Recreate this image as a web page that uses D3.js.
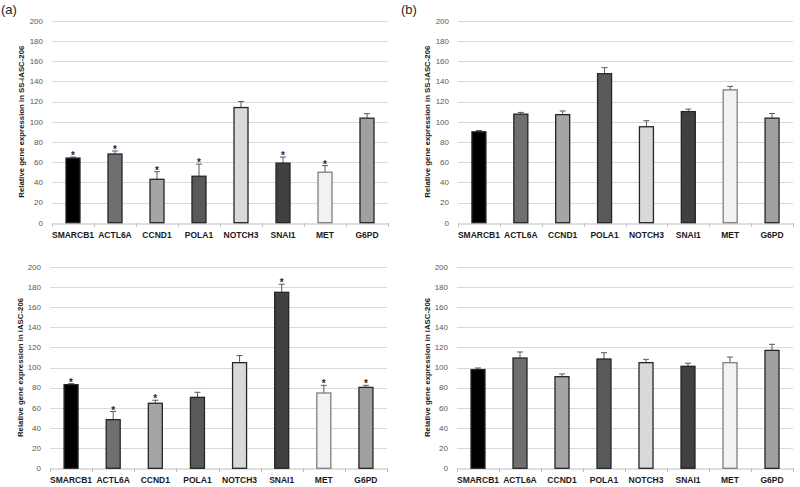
<!DOCTYPE html>
<html><head><meta charset="utf-8">
<script src="https://cdn.jsdelivr.net/npm/d3@7"></script>
<style>body{margin:0;background:#fff}svg{display:block}text{font-family:"Liberation Sans",Arial,sans-serif}</style>
</head><body><svg id="c" width="800" height="487"></svg>
<script>
const genes = ["SMARCB1","ACTL6A","CCND1","POLA1","NOTCH3","SNAI1","MET","G6PD"];
const colors = ["#000000","#6f6f6f","#a5a5a5","#595959","#d9d9d9","#404040","#f2f2f2","#a0a0a0"];
const yTicks = [0,20,40,60,80,100,120,140,160,180,200];

const valuesA = [64,68,43,46,114,59,50,103.5];
const errorsA = [1,3,7.5,12,6,6,6.5,4.5];
const starsA  = [1,1,1,1,0,1,1,0];

const valuesB = [90,107.5,107,147.5,95,110,131.5,103.5];
const errorsB = [1.3,1.7,3.6,6,6,2.5,3.5,4.6];
const starsB  = [0,0,0,0,0,0,0,0];

const valuesC = [83,48.3,64.5,70.4,104.8,174.6,74.7,80.3];
const errorsC = [1,8,3,5,7,8,7.6,2];
const starsC  = [1,1,1,0,0,1,1,1];

const valuesD = [97.9,109.4,90.9,108.4,104.8,101.2,104.8,117];
const errorsD = [1.6,6,2.7,6.3,3.3,3,5.6,6];
const starsD  = [0,0,0,0,0,0,0,0];

const svg = d3.select("#c");

function panel(cfg){
  const g = svg.append("g");
  const x = d3.scaleBand().domain(genes).range([cfg.x0, cfg.x1]).paddingInner(0).paddingOuter(0);
  const y = d3.scaleLinear().domain([0,200]).range([cfg.y0, cfg.y1]);
  g.selectAll(".grid").data(yTicks.filter(d=>d>0)).enter().append("line")
    .attr("x1",cfg.x0).attr("x2",cfg.x1)
    .attr("y1",d=>Math.round(y(d))+0.5).attr("y2",d=>Math.round(y(d))+0.5)
    .attr("stroke","#d9d9d9").attr("stroke-width",1);
  const ax = d3.axisBottom(x).tickSize(0).tickFormat("");
  const axg = g.append("g").attr("transform",`translate(0,${Math.round(y(0))+0.5})`).call(ax);
  axg.select(".domain").attr("stroke","#bfbfbf");
  g.selectAll(".bt").data(d3.range(genes.length+1)).enter().append("line")
    .attr("x1",i=>Math.round(cfg.x0 + i*x.step())+0.5).attr("x2",i=>Math.round(cfg.x0 + i*x.step())+0.5)
    .attr("y1",Math.round(y(0))).attr("y2",Math.round(y(0))+4)
    .attr("stroke","#bfbfbf");
  g.selectAll(".yl").data(yTicks).enter().append("text")
    .attr("x",cfg.x0-9).attr("y",d=>y(d)).attr("dy","0.35em")
    .attr("text-anchor","end").attr("font-size",8).attr("fill","#595959").text(d=>d);
  g.selectAll(".xl").data(genes).enter().append("text")
    .attr("x",d=>x(d)+x.bandwidth()/2).attr("y",y(0)+12).attr("dy","0.35em")
    .attr("text-anchor","middle").attr("font-size",8.5).attr("font-weight","bold").attr("fill","#1a1a1a").text(d=>d);
  const bw = 14;
  const data = genes.map((k,i)=>({k,v:cfg.values[i],e:cfg.errors[i],s:cfg.stars[i],c:colors[i]}));
  g.selectAll(".eb").data(data).enter().append("line")
    .attr("x1",d=>x(d.k)+x.bandwidth()/2).attr("x2",d=>x(d.k)+x.bandwidth()/2)
    .attr("y1",d=>y(d.v)).attr("y2",d=>y(d.v+d.e)).attr("stroke","#595959").attr("stroke-width",1);
  g.selectAll(".ec").data(data).enter().append("line")
    .attr("x1",d=>x(d.k)+x.bandwidth()/2-3).attr("x2",d=>x(d.k)+x.bandwidth()/2+3)
    .attr("y1",d=>y(d.v+d.e)).attr("y2",d=>y(d.v+d.e)).attr("stroke","#595959").attr("stroke-width",1);
  g.selectAll(".bar").data(data).enter().append("rect")
    .attr("x",d=>x(d.k)+x.bandwidth()/2-bw/2).attr("width",bw)
    .attr("y",d=>y(d.v)).attr("height",d=>y(0)-y(d.v))
    .attr("fill",d=>d.c).attr("stroke",d=>d.k==="MET"?"#7f7f7f":"#262626").attr("stroke-width",1.3);
  g.selectAll(".st").data(data.filter(d=>d.s)).enter().append("text")
    .attr("x",d=>x(d.k)+x.bandwidth()/2).attr("y",d=>y(d.v+d.e)-1)
    .attr("text-anchor","middle").attr("font-size",10).attr("font-weight","bold").attr("fill","#262626")
    .attr("dy","0.3em").text("*");
  g.append("text").attr("transform",`translate(${cfg.tx},${(cfg.y0+cfg.y1)/2}) rotate(-90)`)
    .attr("text-anchor","middle").attr("dy","0.35em").attr("font-size",7.8).attr("font-weight","bold").attr("fill","#1a1a1a")
    .text(cfg.title);
  if(cfg.label){
    svg.append("text").attr("x",cfg.lx).attr("y",14).attr("font-size",13).attr("fill","#262626").text(cfg.label);
  }
}

panel({x0:52,x1:388,y0:222.7,y1:20.7,values:valuesA,errors:errorsA,stars:starsA,title:"Relative gene expression in SS-iASC-206",tx:21,label:"(a)",lx:1});
panel({x0:458,x1:793,y0:222.7,y1:20.7,values:valuesB,errors:errorsB,stars:starsB,title:"Relative gene expression in SS-iASC-206",tx:427,label:"(b)",lx:401});
panel({x0:50,x1:387,y0:468.3,y1:266.7,values:valuesC,errors:errorsC,stars:starsC,title:"Relative gene expression in iASC-206",tx:20});
panel({x0:457,x1:793,y0:468.3,y1:266.7,values:valuesD,errors:errorsD,stars:starsD,title:"Relative gene expression in iASC-206",tx:427});
</script></body></html>
